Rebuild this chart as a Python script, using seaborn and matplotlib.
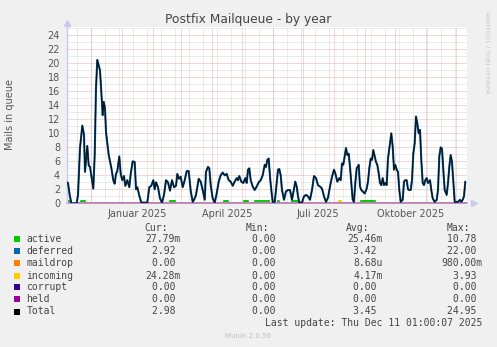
import numpy as np
import pandas as pd
import matplotlib
matplotlib.use("Agg")
import matplotlib.pyplot as plt
import seaborn as sns
from matplotlib.patches import Rectangle

# ---------------- data (days since graph start, values) ----------------
total_day = [0, 1, 2.7, 4.3, 9.7, 11, 13, 15.3, 17, 18, 20.3, 21.7, 23, 24.3, 26.3, 27.7,
             29, 30.3, 31.7, 33, 34.3, 35.7, 36.7, 38, 39, 40.3, 41.7, 43, 44.3, 46.3, 47.7,
             49, 50.3, 52.3, 53.7, 55.3, 57, 58.3, 60.3, 62.3, 63.7, 65.7, 67.7, 69, 70.3,
             72.3, 74.3, 80.3, 82.3, 84.3, 86.3, 87.7, 89, 91, 93, 95, 97, 99, 101, 103, 105,
             107, 109, 110.3, 112, 113.7, 115.7, 117.7, 119.7, 121.7, 123.7, 125.7, 127.7, 129,
             131.7, 133.7, 135.7, 137.7, 139, 141, 142.3, 143.7, 145.7, 147.7, 149.7, 151.7,
             153.7, 155.7, 157.7, 159.7, 161.7, 163.7, 165.7, 167.7, 169.7, 171, 172.3, 174.3,
             176.3, 178.3, 179.7, 181, 182.3, 183.7, 185.7, 187.7, 189.7, 191.7, 193.7, 195.7,
             197.7, 199, 200.3, 201.7, 203, 204.3, 205.7, 207.7, 209, 211, 212.3, 213.7, 215,
             217, 219, 221, 223, 225, 227, 228.3, 229.7, 231, 232.3, 235, 237, 239, 241, 243,
             245, 247, 249, 251, 253, 255, 257, 259, 261, 263, 265, 267, 268.3, 270.3, 272.3,
             273.7, 275, 276.3, 277.7, 279, 280.3, 281.7, 283, 284.3, 285.7, 287, 288.3, 289.7,
             291.7, 293, 294.3, 295.7, 297.7, 299.7, 301, 302.3, 303.7, 305, 306.3, 307.7, 309,
             310.3, 311.7, 313, 314.3, 315.7, 317, 318.3, 319.7, 321, 323, 324.3, 325.7, 327,
             328.3, 329.7, 331, 332.3, 333.7, 335.7, 337, 338.3, 339.7, 341, 342.3, 343.7, 345,
             346.3, 347.7, 349, 350.3, 351.7, 353, 354.3, 355.7, 357, 358.3, 359.7, 361, 363,
             364.3, 365.7, 367.7, 369.7, 371, 372.3, 373.7, 375, 376.3, 377.7, 379.7, 381,
             382.3, 383.7, 385, 386.3, 387.7, 391, 393, 394.3, 395.7, 397, 398.3]
total_val = [3.0, 2.9, 1.2, 0, 0, 1.2, 7.9, 11.1, 9.8, 4.5, 8.2, 5.4, 5.2, 4.0, 2.1, 6.9,
             16.4, 20.5, 19.7, 19.0, 15.9, 12.6, 14.5, 13.6, 10.2, 8.6, 6.9, 6.0, 5.1, 3.3, 2.8,
             4.2, 4.6, 6.7, 4.2, 3.3, 3.9, 2.5, 3.3, 2.3, 4.2, 6.0, 5.9, 2.0, 2.3,
             1.1, 0.1, 0.1, 2.3, 2.5, 3.3, 2.0, 3.0, 2.3, 0.7, 0.1, 1.2, 3.3, 3.0, 1.8, 3.3,
             2.3, 2.5, 4.2, 3.5, 3.8, 2.3, 3.3, 4.6, 4.6, 1.8, 0.2, 0.7, 1.2,
             3.5, 3.1, 1.9, 0.5, 4.5, 5.2, 5.0, 2.6, 0.7, 0.1, 1.4, 3.1,
             4.0, 4.4, 4.0, 4.2, 3.3, 3.1, 2.5, 3.1, 3.6, 3.3, 3.9, 3.1,
             2.9, 3.6, 2.9, 4.8, 5.0, 3.3, 2.4, 1.9, 2.4, 3.0, 3.3, 4.0,
             5.5, 5.2, 6.2, 6.4, 3.8, 1.9, 0.2, 0.2, 1.9, 4.8, 4.9, 4.0, 1.9,
             0.5, 1.7, 1.9, 1.9, 0.5, 2.1, 3.1, 2.4, 1.0, 0.1, 0.1, 1.0, 1.2, 1.0, 0.5,
             1.9, 3.9, 3.6, 2.6, 2.4, 2.1, 1.0, 0.2, 0.8, 2.4, 3.8, 4.8, 4.3, 3.1, 3.6,
             3.3, 5.7, 5.5, 6.7, 7.9, 6.9, 7.1, 5.2, 2.9, 0.5, 0.2, 2.9, 5.0,
             5.5, 2.4, 1.9, 1.7, 1.4, 2.1, 3.1, 5.0, 6.4, 6.2, 7.6, 6.7, 5.9,
             5.5, 4.3, 2.9, 2.6, 3.6, 2.6, 2.9, 2.6, 6.4, 8.6, 10.0, 8.1, 4.8,
             5.5, 4.8, 4.5, 1.9, 0.2, 0.5, 3.1, 3.3, 3.3, 2.0, 1.9, 1.9, 3.3,
             7.1, 8.6, 12.4, 11.4, 10.0, 10.5, 6.2, 2.9, 2.6, 3.3, 3.6, 2.9, 3.3,
             1.9, 0.7, 0.2, 0.5, 1.9, 6.7, 8.0, 7.8, 4.8, 1.9, 1.2, 2.9,
             5.2, 6.9, 5.9, 3.1, 0.2, 0.2, 0.5, 0.2, 0.5, 1.0, 3.1]

active_day = [0, 0, 4, 4, 14, 14, 18, 18, 103, 103, 108, 108, 157, 157, 161, 161, 177, 177,
              181, 181, 188, 188, 202, 202, 211, 211, 212, 212, 225, 225, 231, 231, 294, 294,
              308, 308, 398.7]
active_val = [0.3, 0.3, 0.3, 0, 0, 0.3, 0.3, 0, 0, 0.3, 0.3, 0, 0, 0.3, 0.3, 0, 0, 0.3,
              0.3, 0, 0, 0.3, 0.3, 0, 0, 0.3, 0.3, 0, 0, 0.3, 0.3, 0, 0, 0.3,
              0.3, 0, 0]
incoming_day = [0, 272, 272, 274, 274, 398.7]
incoming_val = [0, 0, 0.3, 0.3, 0, 0]
zero_day = [0, 398.7]
zero_val = [0, 0]

graph_start = np.datetime64('2024-11-07T07:12')
month_first = np.arange(np.datetime64('2024-12'), np.datetime64('2026-01'), dtype='datetime64[M]')
label_months = ['2025-01', '2025-04', '2025-07', '2025-10']
label_texts = ['Januar 2025', 'April 2025', 'Juli 2025', 'Oktober 2025']

legend_names = ['active', 'deferred', 'maildrop', 'incoming', 'corrupt', 'held', 'Total']
legend_colors = ['#00CC00', '#0066B3', '#FF8000', '#FFCC00', '#330099', '#990099', '#000000']
cur_vals = ['27.79m', '2.92 ', '0.00 ', '24.28m', '0.00 ', '0.00 ', '2.98 ']
min_vals = ['0.00 ', '0.00 ', '0.00 ', '0.00 ', '0.00 ', '0.00 ', '0.00 ']
avg_vals = ['25.46m', '3.42 ', '8.68u', '4.17m', '0.00 ', '0.00 ', '3.45 ']
max_vals = ['10.78 ', '22.00 ', '980.00m', '3.93 ', '0.00 ', '0.00 ', '24.95 ']

# ---------------- figure ----------------
sns.set_style("white")
plt.rcParams['font.family'] = ['DejaVu Sans']

W, H = 497, 347
fig = plt.figure(figsize=(W / 100, H / 100), dpi=100, facecolor='#F0F0F0')

def fx(x):
    return x / W

def fy(y):
    return 1 - y / H

L, R, T, B = 67, 467, 27, 203.3
ax = fig.add_axes([fx(L), fy(B), (R - L) / W, (B - T) / H])
ax.set_facecolor('white')
ymax = 25.2
ax.set_xlim(0, 400)
ax.set_ylim(0, ymax)

# grid
dot = (0, (1, 1))
for v in range(1, 26, 2):
    ax.axhline(v, color='#D8D8D8', lw=0.72, ls=dot, zorder=0)
d = 10.3
while d < 400:
    ax.axvline(d, color='#D8D8D8', lw=0.72, ls=dot, zorder=0)
    d += 14
for v in range(2, 25, 2):
    ax.axhline(v, color='#EAB0B0', lw=0.72, ls=dot, zorder=0.5)
month_off = (month_first.astype('datetime64[m]') - graph_start) / np.timedelta64(1, 'D')
for m in month_off:
    ax.axvline(m, color='#EAB0B0', lw=0.72, ls=dot, zorder=0.5)

# series
sns.lineplot(x=active_day, y=active_val, ax=ax, color='#00CC00', lw=1.4, estimator=None, sort=False, zorder=1)
sns.lineplot(x=total_day, y=total_val, ax=ax, color='#0066B3', lw=1.5, estimator=None, sort=False, zorder=3)
sns.lineplot(x=zero_day, y=zero_val, ax=ax, color='#FF8000', lw=0.5, estimator=None, sort=False, zorder=1)
sns.lineplot(x=incoming_day, y=incoming_val, ax=ax, color='#FFCC00', lw=1.4, estimator=None, sort=False, zorder=1)
sns.lineplot(x=zero_day, y=zero_val, ax=ax, color='#330099', lw=0.5, estimator=None, sort=False, zorder=1)
ax.plot([0, 400], [0, 0], color='#B070C8', lw=1.1, zorder=2.5, clip_on=False)
sns.lineplot(x=total_day, y=total_val, ax=ax, color='#111111', lw=0.9, estimator=None, sort=False, zorder=5)
if ax.get_legend() is not None:
    ax.get_legend().remove()

# axes
for s in ['top', 'right', 'bottom']:
    ax.spines[s].set_visible(False)
ax.spines['left'].set_color('#C8C8F0')
ax.spines['left'].set_linewidth(1.0)
ax.plot([0], [1.0 + 4 / (B - T)], marker='^', ms=4, color='#C8C8F0', transform=ax.transAxes, clip_on=False)
ax.plot([1.0 + 7 / (R - L)], [0], marker='>', ms=4, color='#C8C8F0', transform=ax.transAxes, clip_on=False)

ax.set_yticks(range(0, 25, 2))
ax.set_yticklabels([str(v) for v in range(0, 25, 2)])
ax.tick_params(axis='y', length=0, pad=5, labelsize=7, labelcolor='#555555')

mid = []
for lm in label_months:
    a = np.datetime64(lm, 'M')
    s0 = (a.astype('datetime64[m]') - graph_start) / np.timedelta64(1, 'D')
    s1 = ((a + 1).astype('datetime64[m]') - graph_start) / np.timedelta64(1, 'D')
    mid.append((s0 + s1) / 2)
ax.set_xticks(mid)
ax.set_xticklabels(label_texts)
ax.tick_params(axis='x', length=0, pad=4, labelsize=7, labelcolor='#555555')
ax.set_xlabel('')
ax.set_ylabel('')

# texts
fig.text(fx(248), fy(19), 'Postfix Mailqueue - by year', ha='center', va='center', fontsize=8.8, color='#444444')
fig.text(fx(10), fy(115), 'Mails in queue', ha='center', va='center', rotation=90, fontsize=7, color='#555555')
fig.text(fx(487), fy(53), 'RRDTOOL / TOBI OETIKER', ha='center', va='center', rotation=270, fontsize=4.6, color='#C4C4C4')

mono = 'DejaVu Sans Mono'
fs = 7
tc = '#444444'
hy = 228.3
for txt, xr in [('Cur:', 168.3), ('Min:', 268.7), ('Avg:', 369.3), ('Max:', 470)]:
    fig.text(fx(xr), fy(hy), txt, ha='right', va='center', family=mono, fontsize=fs, color=tc)
row_y = [239.3, 251.3, 263.3, 275.7, 287.3, 299.3, 311.5]
for i, name in enumerate(legend_names):
    y = row_y[i]
    fig.patches.append(Rectangle((fx(14), fy(y + 3)), 6 / W, 6 / H, transform=fig.transFigure,
                                 facecolor=legend_colors[i], edgecolor='none'))
    fig.text(fx(26.3), fy(y), name, ha='left', va='center', family=mono, fontsize=fs, color=tc)
    fig.text(fx(181), fy(y), cur_vals[i], ha='right', va='center', family=mono, fontsize=fs, color=tc)
    fig.text(fx(281.6), fy(y), min_vals[i], ha='right', va='center', family=mono, fontsize=fs, color=tc)
    fig.text(fx(382.7), fy(y), avg_vals[i], ha='right', va='center', family=mono, fontsize=fs, color=tc)
    fig.text(fx(482.7), fy(y), max_vals[i], ha='right', va='center', family=mono, fontsize=fs, color=tc)
fig.text(fx(482.7), fy(323.3), 'Last update: Thu Dec 11 01:00:07 2025', ha='right', va='center',
         family=mono, fontsize=fs, color=tc)
fig.text(fx(248), fy(335.7), 'Munin 2.0.56', ha='center', va='center', fontsize=5, color='#C0C0C0')

fig.savefig('out.png', dpi=100, facecolor=fig.get_facecolor())
